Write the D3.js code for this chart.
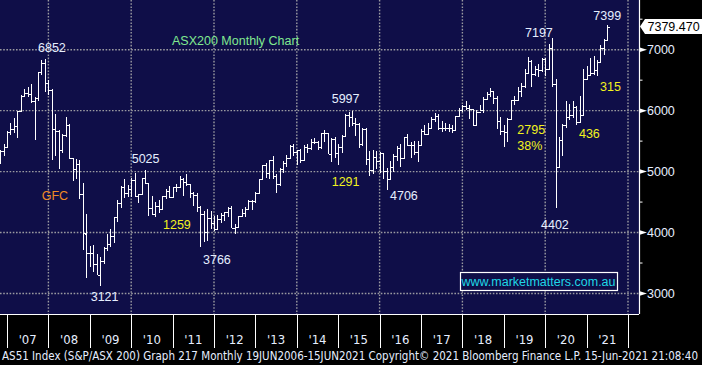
<!DOCTYPE html>
<html><head><meta charset="utf-8">
<script src="https://cdn.jsdelivr.net/npm/d3@7"></script>
<style>html,body{margin:0;padding:0;background:#000;overflow:hidden}</style>
</head><body>
<svg id="c" width="702" height="365"></svg>
<script>
// ---- data (ASX200 monthly OHLC, Jun 2006 .. Jun 2021) ----
const openV = [
 4990,5073,5000,5095,5135,5330,5400,
 5644,5700,5740,5990,6240,6290,6270,6150,6200,6630,6780,6450,
 6340,5700,5670,5355,5600,5770,5215,5050,5130,4630,3980,3670,
 3660,3480,3300,3530,3740,3820,3950,4250,4480,4740,4650,4720,
 4870,4600,4630,4890,4810,4410,4300,4430,4390,4600,4680,4580,
 4750,4750,4880,4830,4790,4650,4610,4420,4300,4010,4240,4160,
 4060,4230,4290,4340,4400,4080,4090,4270,4320,4390,4510,4510,
 4650,4880,5100,4970,5190,4930,4800,5050,5140,5220,5420,5320,
 5350,5190,5400,5390,5490,5490,5400,5630,5630,5290,5530,5310,
 5410,5590,5930,5890,5790,5780,5460,5700,5210,5020,5240,5170,
 5300,5010,4880,5080,5250,5380,5230,5560,5430,5430,5320,5440,
 5670,5620,5710,5860,5920,5720,5720,5720,5710,5680,5910,6010,
 6070,6040,6020,5760,5980,6010,6190,6280,6320,6210,5830,5670,
 5650,5860,6170,6180,6330,6400,6620,6810,6600,6690,6660,6850,
 6680,7020,6440,5080,5520,5760,5900,5930,6060,5820,5930,6520,
 6590,6610,6670,6790,7030,7160];
const highV = [
 5075,5110,5135,5170,5350,5460,5670,
 5800,5880,6000,6260,6360,6390,6430,6220,6640,6830,6852,6500,
 6350,5950,5680,5620,5900,5780,5230,5200,5190,4820,4300,3780,
 3800,3640,3600,3760,3970,4050,4260,4530,4770,4880,4780,4890,
 4970,4640,4900,5025,4810,4600,4500,4530,4600,4720,4770,4750,
 4800,4930,4890,4960,4800,4660,4650,4430,4350,4380,4350,4270,
 4280,4320,4340,4420,4430,4140,4270,4390,4420,4530,4530,4670,
 4880,5110,5140,5190,5250,4960,5060,5180,5280,5430,5450,5350,
 5370,5440,5450,5540,5550,5500,5630,5680,5640,5550,5560,5460,
 5600,5940,5970,5997,5880,5800,5710,5720,5330,5360,5330,5320,
 5300,5060,5180,5290,5420,5450,5560,5610,5480,5510,5500,5700,
 5770,5800,5900,5960,5950,5830,5800,5780,5760,5910,6050,6090,
 6150,6090,6030,6010,6090,6230,6300,6370,6330,6240,5890,5760,
 5880,6180,6240,6390,6450,6680,6880,6830,6740,6770,6860,6870,
 7100,7197,6520,5560,5780,6160,6110,6160,6070,6240,6680,6730,
 6870,6900,6830,7080,7170,7399];
const lowV = [
 4785,4900,4985,4990,5120,5250,5390,
 5600,5640,5550,5980,6220,6220,6120,5520,6150,6580,6300,6250,
 5190,5250,5050,5300,5560,5200,4850,4880,4550,3720,3250,3430,
 3350,3300,3121,3480,3700,3770,3830,4180,4400,4560,4580,4580,
 4580,4480,4620,4800,4270,4290,4260,4320,4370,4550,4560,4580,
 4670,4740,4600,4760,4570,4430,4340,3766,3850,3860,4060,4020,
 4050,4160,4190,4260,4070,3970,4080,4250,4250,4380,4370,4480,
 4650,4870,4890,4880,4880,4650,4770,4970,5080,5210,5260,5110,
 5140,5170,5300,5360,5450,5350,5370,5490,5290,5160,5220,5110,
 5310,5580,5730,5740,5580,5380,5420,5110,4920,4960,5040,4980,
 4880,4706,4870,5000,5180,5080,5230,5420,5230,5280,5160,5430,
 5600,5610,5700,5810,5690,5650,5670,5650,5640,5680,5890,5970,
 6010,5860,5740,5740,5990,5960,6170,6230,6110,5700,5600,5410,
 5480,5850,6090,6170,6220,6370,6610,6390,6560,6550,6630,6560,
 6680,6380,4402,5060,5250,5720,5850,5880,5760,5820,5910,6520,
 6590,6590,6560,6790,6920,7160];
const closeV = [
 5073,5000,5095,5135,5330,5400,5644,
 5700,5740,5990,6240,6290,6270,6150,6200,6630,6780,6450,6340,
 5700,5670,5355,5600,5770,5215,5050,5130,4630,4000,3670,3660,
 3480,3300,3530,3740,3820,3950,4250,4480,4740,4650,4720,4870,
 4600,4630,4890,4810,4410,4300,4430,4390,4600,4680,4580,4750,
 4750,4880,4830,4790,4650,4610,4420,4300,4010,4240,4160,4060,
 4230,4290,4340,4400,4080,4090,4270,4320,4390,4510,4510,4650,
 4880,5100,4970,5190,4930,4800,5050,5140,5220,5420,5320,5350,
 5190,5400,5390,5490,5490,5400,5630,5630,5290,5530,5310,5410,
 5590,5930,5890,5790,5780,5460,5700,5210,5020,5240,5170,5300,
 5010,4880,5080,5250,5380,5230,5560,5430,5430,5320,5440,5670,
 5620,5710,5860,5920,5720,5720,5720,5710,5680,5910,6010,6070,
 6040,6020,5760,5980,6010,6190,6280,6320,6210,5830,5670,5650,
 5860,6170,6180,6330,6400,6620,6810,6600,6690,6660,6850,6680,
 7020,6440,5080,5520,5760,5900,5930,6060,5820,5930,6520,6590,
 6610,6670,6790,7030,7160,7379];

const yearLabels = ["'07","'08","'09","'10","'11","'12","'13","'14","'15","'16","'17","'18","'19","'20","'21"];
const firstYear = 2007;
const yTicks = [3000,4000,5000,6000,7000];
const yMinorTicks = [3500,4500,5500,6500,7500];
const gridYears = [2008,2010,2012,2014,2016,2018,2020,2022];
const lastValue = 7379.47;
const lastLabel = "7379.470";
const titleText = "ASX200 Monthly Chart";
const urlText = "www.marketmatters.com.au";
const footerText = "AS51 Index (S&P/ASX 200) Graph 217  Monthly 19JUN2006-15JUN2021 Copyright\u00A9 2021 Bloomberg Finance L.P. 15-Jun-2021 21:08:40";
// annotations: text, kind, year position, value position
const annText  = ["6852","5025","GFC","3121","1259","3766","5997","1291","4706","7197","7399","315","2795","38%","436","4402"];
const annKind  = ["w","w","o","w","y","w","w","y","w","w","w","y","y","y","y","w"];
const annYear  = [2007.749,2010.012,2007.838,2009.022,2010.768,2011.734,2014.843,2014.843,2016.251,2019.512,2021.162,2021.324,2019.326,2019.326,2020.816,2019.899];
const annValue = [6954,5149,4526,2877,4050,3492,6129,4764,4526,7212,7495,6322,5609,5354,5555,4066];
const titleYear = 2010.986, titleValue = 7069;

// ---- layout ----
const W = 702, H = 365;
const plotR = 639, plotB = 314;
const svg = d3.select("#c");
const x = d3.scaleLinear().domain([2007, 2022]).range([7, 628]);
const y = d3.scaleLinear().domain([2663.7, 7815]).range([plotB, 0]);
const months = d3.timeMonth.range(new Date(2006,5,1), new Date(2021,6,1));
const bars = months.map((d,i)=>({t: d.getFullYear() + (d.getMonth()+1)/12, o:openV[i], h:highV[i], l:lowV[i], c:closeV[i]}));

const colors = {bg:"#0f0e48", grid:"#9a9aa0", w:"#e6eeff", y:"#f2f21e", o:"#f08a24", g:"#80e890", url:"#1fd6e6"};

svg.append("rect").attr("width",W).attr("height",H).attr("fill","#000");
svg.append("rect").attr("width",plotR).attr("height",plotB).attr("fill",colors.bg);

svg.append("defs").append("clipPath").attr("id","clip")
  .append("rect").attr("width",plotR).attr("height",plotB);

// grid
const grid = svg.append("g").attr("stroke",colors.grid).attr("stroke-width",1.4).attr("stroke-dasharray","1.6,1.6");
grid.selectAll("line.h").data(yTicks).join("line").attr("class","h")
  .attr("x1",0).attr("x2",plotR).attr("y1",d=>y(d)).attr("y2",d=>y(d));
grid.selectAll("line.v").data(gridYears).join("line").attr("class","v")
  .attr("x1",d=>x(d)).attr("x2",d=>x(d)).attr("y1",0).attr("y2",plotB);

// bars
const bg = svg.append("g").attr("clip-path","url(#clip)").attr("stroke","#fff").attr("stroke-width",1.1).attr("shape-rendering","crispEdges");
bars.forEach(b=>{
  const cx = Math.round(x(b.t)) + 0.5;
  bg.append("line").attr("x1",cx).attr("x2",cx).attr("y1",y(b.h)).attr("y2",y(b.l));
  bg.append("line").attr("x1",cx-2).attr("x2",cx).attr("y1",Math.round(y(b.o))+0.5).attr("y2",Math.round(y(b.o))+0.5);
  bg.append("line").attr("x1",cx).attr("x2",cx+2).attr("y1",Math.round(y(b.c))+0.5).attr("y2",Math.round(y(b.c))+0.5);
});

// right axis
const axisG = svg.append("g").attr("transform",`translate(${plotR},0)`);
const ax = d3.axisRight(y).tickValues(yTicks).tickFormat(d3.format("d")).tickSize(0).tickPadding(8);
axisG.call(ax);
axisG.select(".domain").remove();
axisG.selectAll("text").attr("fill",colors.w).attr("font-family","'Liberation Sans',Arial,sans-serif").attr("font-size","12.5px");
svg.append("line").attr("x1",plotR+0.5).attr("x2",plotR+0.5).attr("y1",0).attr("y2",plotB).attr("stroke","#fff").attr("stroke-width",1.2);
svg.selectAll("path.tri").data(yTicks).join("path").attr("class","tri")
  .attr("d",d=>`M${plotR},${y(d)-2.5}L${plotR+8},${y(d)}L${plotR},${y(d)+2.5}Z`).attr("fill","#fff");
svg.selectAll("line.minor").data(yMinorTicks).join("line").attr("class","minor")
  .attr("x1",plotR).attr("x2",plotR+3.5).attr("y1",d=>y(d)).attr("y2",d=>y(d)).attr("stroke","#fff");

// last price box
const ly = y(lastValue);
svg.append("path").attr("d",`M${plotR+1},${ly}L${plotR+6},${ly-7.5}L${W},${ly-7.5}L${W},${ly+7.5}L${plotR+6},${ly+7.5}Z`).attr("fill","#fff");
svg.append("text").attr("x",plotR+8.5).attr("y",ly+4.5).text(lastLabel)
  .attr("fill","#000").attr("font-family","'Liberation Sans',Arial,sans-serif").attr("font-size","12.5px");

// bottom axis band
svg.append("line").attr("x1",0).attr("x2",plotR).attr("y1",plotB+0.5).attr("y2",plotB+0.5).attr("stroke","#fff");
const tickYears = d3.range(firstYear, firstYear + yearLabels.length + 1);
svg.selectAll("line.xt").data(tickYears).join("line").attr("class","xt")
  .attr("x1",d=>Math.round(x(d))+0.5).attr("x2",d=>Math.round(x(d))+0.5).attr("y1",plotB).attr("y2",348).attr("stroke","#fff");
svg.selectAll("text.xl").data(yearLabels).join("text").attr("class","xl")
  .attr("x",(d,i)=>x(firstYear+i+0.5)).attr("y",344).attr("text-anchor","middle")
  .attr("fill",colors.w).attr("font-family","'Liberation Sans Narrow','DejaVu Sans Condensed',sans-serif").attr("font-size","13px").text(d=>d);
svg.append("text").attr("x",2).attr("y",360).text(footerText)
  .attr("fill",colors.w).attr("font-family","'Liberation Sans Narrow','DejaVu Sans Condensed',sans-serif").attr("font-size","11.5px")
  .attr("textLength",696).attr("lengthAdjust","spacingAndGlyphs");

// title, url box, annotations
const fam = "'Liberation Sans',Arial,sans-serif";
svg.append("text").attr("x",x(titleYear)).attr("y",y(titleValue)).text(titleText)
  .attr("fill",colors.g).attr("font-family",fam).attr("font-size","12.5px");
svg.append("rect").attr("x",460.5).attr("y",272.5).attr("width",157).attr("height",18)
  .attr("fill",colors.bg).attr("stroke","#fff").attr("stroke-width",1.2);
svg.append("text").attr("x",461.5).attr("y",286).text(urlText)
  .attr("fill",colors.url).attr("font-family",fam).attr("font-size","12.5px").attr("textLength",154).attr("lengthAdjust","spacingAndGlyphs");
svg.selectAll("text.ann").data(annText).join("text").attr("class","ann")
  .attr("x",(d,i)=>x(annYear[i])).attr("y",(d,i)=>y(annValue[i]))
  .attr("fill",(d,i)=>colors[annKind[i]]).attr("font-family",fam).attr("font-size","12.5px").text(d=>d);
</script>
</body></html>
